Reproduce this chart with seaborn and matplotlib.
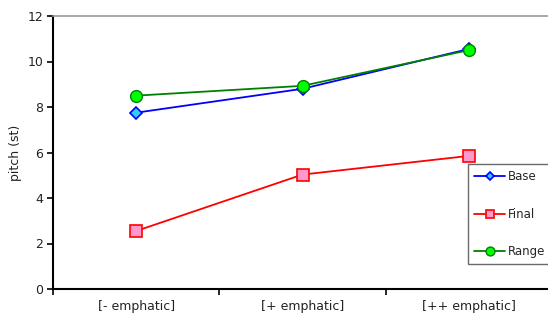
import matplotlib
matplotlib.use("Agg")
import matplotlib.pyplot as plt
import seaborn as sns
import pandas as pd

categories = ["[- emphatic]", "[+ emphatic]", "[++ emphatic]"]
base = [7.75, 8.8, 10.55]
final = [2.55, 5.03, 5.85]
range_ = [8.5, 8.93, 10.5]
yticks = [0, 2, 4, 6, 8, 10, 12]

sns.set_theme(style="white")
plt.rcParams['font.family'] = ['DejaVu Sans']

fig = plt.figure(figsize=(5.48, 3.2), dpi=100)
ax = fig.add_axes([53/548, 1-289/320, (552-53)/548, (289-16)/320])

styles = [
    ("Base", base, dict(color="#0000ff", marker="D", markersize=6, markerfacecolor="#33ccff", markeredgecolor="#0000ff", markeredgewidth=1.2)),
    ("Final", final, dict(color="#ff0000", marker="s", markersize=8.5, markerfacecolor="#ff99cc", markeredgecolor="#ff0000", markeredgewidth=1.2)),
    ("Range", range_, dict(color="#008000", marker="o", markersize=8.5, markerfacecolor="#00ff00", markeredgecolor="#008000", markeredgewidth=1.0)),
]
for name, vals, kw in styles:
    df = pd.DataFrame({"cat": categories, "val": vals})
    sns.lineplot(data=df, x="cat", y="val", ax=ax, label=name, linewidth=1.3, sort=False, **kw)

ax.set_xlim(-0.5, 2.5)
ax.set_ylim(0, 12)
ax.set_yticks(yticks)
ax.set_yticklabels([str(t) for t in yticks], fontsize=9, color="#222222")
ax.set_xticks([0, 1, 2])
ax.set_xticklabels(categories, fontsize=9, color="#222222")
ax.set_xticks([-0.5, 0.5, 1.5, 2.5], minor=True)
ax.tick_params(axis="x", which="major", length=0, pad=8)
ax.tick_params(axis="x", which="minor", length=4, width=1.2, color="black", direction="out", bottom=True)
ax.tick_params(axis="y", length=4, width=1.2, color="black", direction="out", left=True, pad=3)
ax.set_xlabel("")
ax.set_ylabel("pitch (st)", fontsize=9, color="#222222", labelpad=4)

for s in ["left", "bottom"]:
    ax.spines[s].set_color("black")
    ax.spines[s].set_linewidth(1.5)
ax.spines["top"].set_color("#999999")
ax.spines["top"].set_linewidth(1.2)
ax.spines["right"].set_visible(False)

ax.get_legend().remove()
h, l = ax.get_legend_handles_labels()
leg = fig.legend(h, l, loc="upper left", bbox_to_anchor=(468/548, 1-164/320),
                 fontsize=8.5, frameon=True, fancybox=False, edgecolor="#444444",
                 labelspacing=2.05, handlelength=2.6, handletextpad=0.25,
                 borderpad=0.55, borderaxespad=0, markerscale=0.75)
leg.get_frame().set_linewidth(1.0)

fig.savefig("out.png", dpi=100)
